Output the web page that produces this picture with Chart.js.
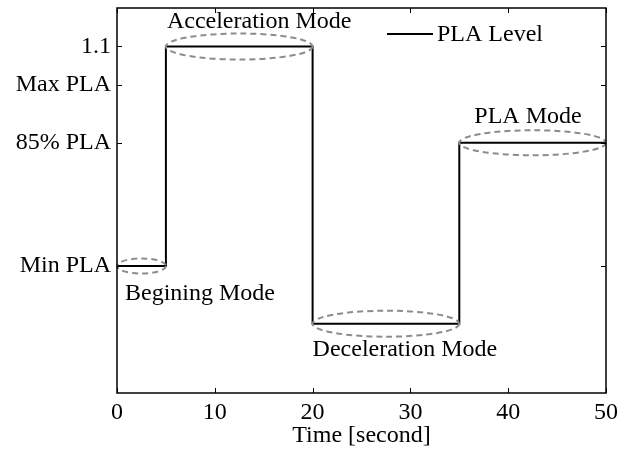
<!DOCTYPE html>
<html>
<head>
<meta charset="utf-8">
<script src="https://cdn.jsdelivr.net/npm/chart.js@4.4.0/dist/chart.umd.min.js"></script>
<style>
  html, body { margin: 0; padding: 0; background: #fff; }
  #wrap { width: 627px; height: 450px; }
</style>
</head>
<body>
<div id="wrap"><canvas id="plaChart"></canvas></div>
<script>
// step profile of the PLA level
const timeSec = [0, 5, 20, 35, 50];
const plaLevel = [0.53, 1.1, 0.38, 0.85, 0.85];

// axis ticks
const xTickValues = [0, 10, 20, 30, 40, 50];
const yTickValues = [0.53, 0.85, 1.0, 1.1];
const yTickLabels = ['Min PLA', '85% PLA', 'Max PLA', '1.1'];

// operating modes (marked with dashed ellipses)
const modeNames = ['Begining Mode', 'Acceleration Mode', 'Deceleration Mode', 'PLA Mode'];
const modeStart = [0, 5, 20, 35];
const modeEnd = [5, 20, 35, 50];
const modeLevel = [0.53, 1.1, 0.38, 0.85];

const FONT = "'Liberation Serif', 'Times New Roman', serif";
const FSIZE = 24;

const points = timeSec.map((t, i) => ({ x: t, y: plaLevel[i] }));

const framePlugin = {
    id: 'frame',
    afterDatasetsDraw(chart) {
        const { ctx, scales: { x, y } } = chart;
        // dashed ellipses around each mode
        const ry = [7.5, 13, 13, 12.5];
        const labelDx = [8, 1, 0, 15];
        const labelDy = [28, -25, 26, -26];
        ctx.save();
        for (let i = 0; i < modeNames.length; i++) {
            const x1 = x.getPixelForValue(modeStart[i]);
            const x2 = x.getPixelForValue(modeEnd[i]);
            const cy = y.getPixelForValue(modeLevel[i]);
            ctx.beginPath();
            ctx.setLineDash([6, 4]);
            ctx.strokeStyle = '#8c8c8c';
            ctx.lineWidth = 2;
            ctx.ellipse((x1 + x2) / 2, cy, (x2 - x1) / 2, ry[i], 0, 0, Math.PI * 2);
            ctx.stroke();

            ctx.setLineDash([]);
            ctx.fillStyle = '#000';
            ctx.font = FSIZE + 'px ' + FONT;
            ctx.textAlign = 'left';
            ctx.textBaseline = 'middle';
            ctx.fillText(modeNames[i], x1 + labelDx[i], cy + labelDy[i]);
        }
        ctx.restore();
    },
    afterDraw(chart) {
        const { ctx, chartArea: a, scales: { x, y } } = chart;
        ctx.save();
        ctx.strokeStyle = '#000';
        ctx.lineWidth = 1.5;
        ctx.setLineDash([]);
        ctx.strokeRect(a.left, a.top, a.right - a.left, a.bottom - a.top);

        // inward ticks on all four sides
        ctx.lineWidth = 1;
        const tl = 5;
        ctx.beginPath();
        xTickValues.forEach(v => {
            const px = Math.round(x.getPixelForValue(v)) + 0.5;
            ctx.moveTo(px, a.bottom); ctx.lineTo(px, a.bottom - tl);
            ctx.moveTo(px, a.top); ctx.lineTo(px, a.top + tl);
        });
        yTickValues.forEach(v => {
            const py = Math.round(y.getPixelForValue(v)) + 0.5;
            ctx.moveTo(a.left, py); ctx.lineTo(a.left + tl, py);
            ctx.moveTo(a.right, py); ctx.lineTo(a.right - tl, py);
        });
        ctx.stroke();

        // legend
        const lx = 387, ly = 34;
        ctx.beginPath();
        ctx.lineWidth = 2;
        ctx.moveTo(lx, ly); ctx.lineTo(lx + 46, ly);
        ctx.stroke();
        ctx.fillStyle = '#000';
        ctx.font = FSIZE + 'px ' + FONT;
        ctx.textAlign = 'left';
        ctx.textBaseline = 'middle';
        ctx.fillText(chart.data.datasets[0].label, lx + 50, ly + 1);
        ctx.restore();
    }
};

const ctx = document.getElementById('plaChart').getContext('2d');
new Chart(ctx, {
    type: 'scatter',
    data: {
        datasets: [{
            label: 'PLA Level',
            data: points,
            showLine: true,
            stepped: 'before',
            borderColor: '#000',
            borderWidth: 2,
            pointRadius: 0,
            fill: false
        }]
    },
    options: {
        responsive: true,
        maintainAspectRatio: false,
        animation: false,
        layout: { padding: { top: 8, right: 21, left: 0, bottom: 0 } },
        plugins: {
            legend: { display: false },
            tooltip: { enabled: false }
        },
        scales: {
            x: {
                type: 'linear',
                min: 0,
                max: 50,
                afterBuildTicks: (scale) => { scale.ticks = xTickValues.map(v => ({ value: v })); },
                afterFit: (scale) => { scale.height = 57; scale.paddingLeft = 0; scale.paddingRight = 0; },
                grid: { display: false, drawTicks: false },
                border: { display: false },
                ticks: {
                    color: '#000',
                    padding: 5,
                    maxRotation: 0,
                    font: { family: FONT, size: FSIZE }
                },
                title: {
                    display: true,
                    text: 'Time [second]',
                    color: '#000',
                    padding: { top: 0, bottom: 0 },
                    font: { family: FONT, size: FSIZE }
                }
            },
            y: {
                type: 'linear',
                min: 0.2,
                max: 1.2,
                afterBuildTicks: (scale) => { scale.ticks = yTickValues.map(v => ({ value: v })); },
                afterFit: (scale) => { scale.width = 117; scale.paddingTop = 0; scale.paddingBottom = 0; },
                grid: { display: false, drawTicks: false },
                border: { display: false },
                ticks: {
                    color: '#000',
                    padding: 6,
                    font: { family: FONT, size: FSIZE },
                    callback: (value, index) => yTickLabels[index]
                }
            }
        }
    },
    plugins: [framePlugin]
});
</script>
</body>
</html>
